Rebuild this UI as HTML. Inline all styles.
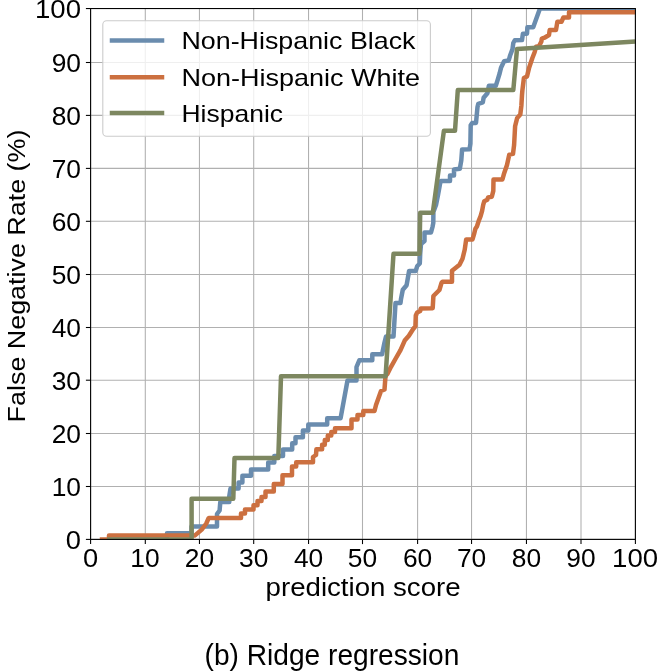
<!DOCTYPE html>
<html><head><meta charset="utf-8"><style>
html,body{margin:0;padding:0;background:#fff;}
svg{display:block;will-change:transform;}
text{font-family:"Liberation Sans",sans-serif;fill:#000;}
</style></head><body>
<svg width="657" height="671" viewBox="0 0 657 671">
<defs><clipPath id="ax"><rect x="90.6" y="8.55" width="544.8" height="530.85"/></clipPath></defs>
<rect width="657" height="671" fill="#fff"/>
<g stroke="#b0b0b0" stroke-width="1.07"><line x1="90.6" y1="8.55" x2="90.6" y2="539.4"/><line x1="90.6" y1="539.4" x2="635.4" y2="539.4"/><line x1="145.3" y1="8.55" x2="145.3" y2="539.4"/><line x1="90.6" y1="486.5" x2="635.4" y2="486.5"/><line x1="199.45" y1="8.55" x2="199.45" y2="539.4"/><line x1="90.6" y1="433.5" x2="635.4" y2="433.5"/><line x1="253.7" y1="8.55" x2="253.7" y2="539.4"/><line x1="90.6" y1="380.2" x2="635.4" y2="380.2"/><line x1="308.55" y1="8.55" x2="308.55" y2="539.4"/><line x1="90.6" y1="327.5" x2="635.4" y2="327.5"/><line x1="362.5" y1="8.55" x2="362.5" y2="539.4"/><line x1="90.6" y1="274.5" x2="635.4" y2="274.5"/><line x1="417.6" y1="8.55" x2="417.6" y2="539.4"/><line x1="90.6" y1="221.3" x2="635.4" y2="221.3"/><line x1="471.55" y1="8.55" x2="471.55" y2="539.4"/><line x1="90.6" y1="168.4" x2="635.4" y2="168.4"/><line x1="526.45" y1="8.55" x2="526.45" y2="539.4"/><line x1="90.6" y1="115.4" x2="635.4" y2="115.4"/><line x1="581" y1="8.55" x2="581" y2="539.4"/><line x1="90.6" y1="62.5" x2="635.4" y2="62.5"/><line x1="635.4" y1="8.55" x2="635.4" y2="539.4"/><line x1="90.6" y1="8.55" x2="635.4" y2="8.55"/></g>
<g clip-path="url(#ax)" fill="none" stroke-width="4.5" stroke-linejoin="round" stroke-linecap="square">
<polyline stroke="#6a8cae" points="110,539.5 167,539.5 167,533.2 191.5,533.2 191.5,526.5 217,526.5 217,514 219.6,510.5 220.3,502 229.3,502 229.3,496 230.5,488.5 238.6,488.5 238.6,482.5 242.4,482.5 242.4,475.8 251,475.8 251,469.5 268.2,469.5 268.2,462.5 274.3,462.5 274.3,456 283,456 283,449.5 292.2,449.5 292.2,443.3 295.5,443.3 295.5,437.2 302.9,437.2 302.9,430.6 308.3,430.6 308.3,424.4 327.2,424.4 327.2,418.2 340.6,418.2 347.5,380.5 356.5,380.5 356.5,367 359.3,360.3 372.3,360.3 372.3,354.2 382.1,354.2 384.4,343 386,336.5 393.5,336.5 395.5,303 400.5,303 401,299 402.8,289.8 406.6,285.2 409.1,271 415.7,270.9 417.3,266 419.8,263.5 420.2,253.7 421,244 424.5,241 424.5,232.4 431,232.4 432.5,227 433.3,222.8 433.4,212 436,205 438,195 440,184 440.8,181 450,181 450,175.5 454,175.5 454,169.4 459.8,168.8 461.3,160.4 462.1,149.5 469.5,149.3 470.4,143.7 470.7,125.2 472.2,122.9 476,122.9 477.5,107 478.3,103.9 482.8,102.4 483.6,97.8 487.4,93.3 488.9,85.7 495.8,85.7 497.3,81.1 499.6,73.5 501.1,67.4 504.1,61.3 508.7,60.5 510.2,55.2 512.5,49.1 513.3,43 514.8,40.2 522,40.1 522.9,33.7 527,33.7 527.4,27.2 533.2,27.2 538.7,11.9 540,8.5 645,8.5"/>
<polyline stroke="#cc7040" points="102,539.5 109,539.5 109,535.4 195,535.4 201.7,529.6 206.3,523.5 208.6,518.2 209,518 241,518 241,513.6 245,513.6 245,509.4 253.5,509.4 253.5,505.2 257.5,505.2 257.5,501 261.5,501 261.5,497 265.5,497 265.5,491.5 273.8,491.5 273.8,484 282.5,484 282.5,475.3 292,475.3 292,466.5 296.2,466.5 296.2,462.2 313,462.2 313,457 316,455 316.4,449.2 322.1,449.2 322.1,444.7 324.8,444.7 324.8,440.1 327.8,440.1 327.8,435.5 331.3,435.5 331.3,432.1 335,432.1 335,428.3 351.5,428.3 351.5,419.6 357.5,419.6 357.5,415 363.3,415 363.3,411 374.5,411 376,405 381,391 384.5,389.5 385.5,376 387.4,374 391,366.8 395.7,358.5 400.5,350.1 404.7,340.6 408.9,335.8 413,329.2 415.4,326.3 415.8,315.5 417.2,312.5 420.2,311 420.8,308.4 432.7,308.2 433.4,296 436.4,293 439.4,290 441.6,282.6 442.5,281.8 452,281.8 452,270.7 455.8,267.7 459.5,264.7 462.5,258.7 464.7,249.8 466.2,239.4 472.5,239.4 473.9,234.7 475.4,228.7 476.9,226.5 479.1,219.8 480.6,216.1 482.1,210.8 483.2,204.9 484.3,201.2 487.3,199.7 488.1,197.4 491.8,196.7 493.3,190.9 493.5,179.5 502.4,179.5 503.9,174.1 507,165 509.3,154.6 513,153.9 514.1,145 515.1,126.3 517.2,117.9 520.3,114.5 521.4,105.4 522,95 522.4,90.2 523.9,78.1 527,76.5 529.2,67.4 532.3,58.3 534.6,52.2 536.1,46.8 539.1,46.1 541.4,41.5 541.8,38.6 544.5,37.7 549,35 549.7,30 556,30 557.4,21.7 561.5,21.7 563.4,17.5 569,17.5 569,12.3 645,12.3"/>
<polyline stroke="#7d8760" points="109.3,539.5 191.6,539.5 191.6,498.7 233.3,498.7 234.5,458 278.3,458 281,376.3 385.6,376.3 393.5,253.8 419.5,253.8 420.2,212.7 432.8,212.7 443.9,130.8 455,130.8 457.8,90.1 513.3,90.1 517,49 635.5,41.6 650,40.7"/>
</g>
<rect x="90.6" y="8.55" width="544.8" height="530.85" fill="none" stroke="#000" stroke-width="1.07"/>
<g stroke="#000" stroke-width="1.07"><line x1="90.6" y1="539.4" x2="90.6" y2="544.1"/><line x1="85.9" y1="539.4" x2="90.6" y2="539.4"/><line x1="145.3" y1="539.4" x2="145.3" y2="544.1"/><line x1="85.9" y1="486.5" x2="90.6" y2="486.5"/><line x1="199.45" y1="539.4" x2="199.45" y2="544.1"/><line x1="85.9" y1="433.5" x2="90.6" y2="433.5"/><line x1="253.7" y1="539.4" x2="253.7" y2="544.1"/><line x1="85.9" y1="380.2" x2="90.6" y2="380.2"/><line x1="308.55" y1="539.4" x2="308.55" y2="544.1"/><line x1="85.9" y1="327.5" x2="90.6" y2="327.5"/><line x1="362.5" y1="539.4" x2="362.5" y2="544.1"/><line x1="85.9" y1="274.5" x2="90.6" y2="274.5"/><line x1="417.6" y1="539.4" x2="417.6" y2="544.1"/><line x1="85.9" y1="221.3" x2="90.6" y2="221.3"/><line x1="471.55" y1="539.4" x2="471.55" y2="544.1"/><line x1="85.9" y1="168.4" x2="90.6" y2="168.4"/><line x1="526.45" y1="539.4" x2="526.45" y2="544.1"/><line x1="85.9" y1="115.4" x2="90.6" y2="115.4"/><line x1="581" y1="539.4" x2="581" y2="544.1"/><line x1="85.9" y1="62.5" x2="90.6" y2="62.5"/><line x1="635.4" y1="539.4" x2="635.4" y2="544.1"/><line x1="85.9" y1="8.55" x2="90.6" y2="8.55"/></g>
<g font-size="25.1"><text x="90.6" y="567.3" text-anchor="middle" textLength="15.2" lengthAdjust="spacingAndGlyphs">0</text><text x="81" y="549.1" text-anchor="end" textLength="15.2" lengthAdjust="spacingAndGlyphs">0</text><text x="144.9" y="567.3" text-anchor="middle" textLength="29.3" lengthAdjust="spacingAndGlyphs">10</text><text x="81" y="496.2" text-anchor="end" textLength="29.3" lengthAdjust="spacingAndGlyphs">10</text><text x="199.45" y="567.3" text-anchor="middle" textLength="29.3" lengthAdjust="spacingAndGlyphs">20</text><text x="81" y="443.2" text-anchor="end" textLength="29.3" lengthAdjust="spacingAndGlyphs">20</text><text x="253.7" y="567.3" text-anchor="middle" textLength="29.3" lengthAdjust="spacingAndGlyphs">30</text><text x="81" y="389.9" text-anchor="end" textLength="29.3" lengthAdjust="spacingAndGlyphs">30</text><text x="308.55" y="567.3" text-anchor="middle" textLength="29.3" lengthAdjust="spacingAndGlyphs">40</text><text x="81" y="337.2" text-anchor="end" textLength="29.3" lengthAdjust="spacingAndGlyphs">40</text><text x="362.5" y="567.3" text-anchor="middle" textLength="29.3" lengthAdjust="spacingAndGlyphs">50</text><text x="81" y="284.2" text-anchor="end" textLength="29.3" lengthAdjust="spacingAndGlyphs">50</text><text x="417.6" y="567.3" text-anchor="middle" textLength="29.3" lengthAdjust="spacingAndGlyphs">60</text><text x="81" y="231" text-anchor="end" textLength="29.3" lengthAdjust="spacingAndGlyphs">60</text><text x="471.55" y="567.3" text-anchor="middle" textLength="29.3" lengthAdjust="spacingAndGlyphs">70</text><text x="81" y="178.1" text-anchor="end" textLength="29.3" lengthAdjust="spacingAndGlyphs">70</text><text x="526.45" y="567.3" text-anchor="middle" textLength="29.3" lengthAdjust="spacingAndGlyphs">80</text><text x="81" y="125.1" text-anchor="end" textLength="29.3" lengthAdjust="spacingAndGlyphs">80</text><text x="581" y="567.3" text-anchor="middle" textLength="29.3" lengthAdjust="spacingAndGlyphs">90</text><text x="81" y="72.2" text-anchor="end" textLength="29.3" lengthAdjust="spacingAndGlyphs">90</text><text x="635.1" y="567.3" text-anchor="middle" textLength="46" lengthAdjust="spacingAndGlyphs">100</text><text x="81" y="18.25" text-anchor="end" textLength="46" lengthAdjust="spacingAndGlyphs">100</text></g>
<g>
<rect x="102.8" y="20.7" width="327.6" height="115.6" rx="3.8" fill="#fff" fill-opacity="0.8" stroke="#cccccc" stroke-width="1.1"/>
<g stroke-width="4.5" stroke-linecap="square">
<line x1="112" y1="40.4" x2="162" y2="40.4" stroke="#6a8cae"/>
<line x1="112" y1="77.3" x2="162" y2="77.3" stroke="#cc7040"/>
<line x1="112" y1="113" x2="162" y2="113" stroke="#7d8760"/>
</g>
<g font-size="24">
<text x="181.5" y="49.2" textLength="234" lengthAdjust="spacingAndGlyphs">Non-Hispanic Black</text>
<text x="181.5" y="85.6" textLength="238.5" lengthAdjust="spacingAndGlyphs">Non-Hispanic White</text>
<text x="181.5" y="121.7" textLength="101.5" lengthAdjust="spacingAndGlyphs">Hispanic</text>
</g>
</g>
<text x="265.6" y="595.8" font-size="25.4" textLength="195" lengthAdjust="spacingAndGlyphs">prediction score</text>
<text transform="translate(24.8,422.4) rotate(-90)" x="0" y="0" font-size="24.8" textLength="292.8" lengthAdjust="spacingAndGlyphs">False Negative Rate (%)</text>
<text x="204.6" y="665" font-size="29.2" textLength="254.8" lengthAdjust="spacingAndGlyphs">(b) Ridge regression</text>
</svg>
</body></html>
